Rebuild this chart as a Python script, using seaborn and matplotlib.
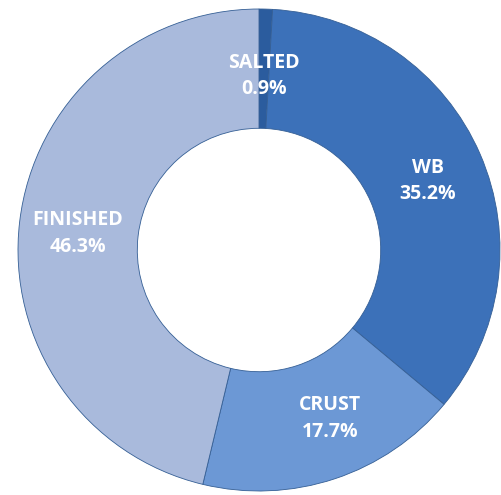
import matplotlib
matplotlib.use("Agg")
import matplotlib.pyplot as plt
import seaborn as sns
import numpy as np

categories = ["SALTED", "WB", "CRUST", "FINISHED"]
percentages = [0.9, 35.2, 17.7, 46.3]
colors = ["#2b5c9e", "#3c71b9", "#6c98d5", "#a9badc"]

sns.set_theme(style="white")
plt.rcParams['font.family'] = ['Open Sans', 'DejaVu Sans']

W, H = 502, 495
fig = plt.figure(figsize=(W / 100, H / 100), dpi=100)
ax = fig.add_axes([0, 0, 1, 1])

cx, cy, R = 259, 250, 241
wedges, _ = ax.pie(percentages, colors=colors, startangle=90, counterclock=False,
                   radius=1.0, wedgeprops=dict(width=0.495, edgecolor="#355f95", linewidth=0.6))

ax.set_xlim(-cx / R, (W - cx) / R)
ax.set_ylim(-(H - cy) / R, cy / R)
ax.set_aspect('auto')
ax.axis('off')

# label placement (radius, angle in degrees)
label_pos = [(0.722, 88.4), (0.757, 22.2), (0.759, -67.2), (0.754, 174.8)]
for w, cat, p, (lr, adeg) in zip(wedges, categories, percentages, label_pos):
    ang = np.deg2rad(adeg)
    x, y = lr * np.cos(ang), lr * np.sin(ang)
    ax.text(x, y, f"{cat}\n{p}%", ha="center", va="center", color="white",
            fontsize=14, fontweight="bold", linespacing=1.45)

fig.savefig("out.png", dpi=100)
